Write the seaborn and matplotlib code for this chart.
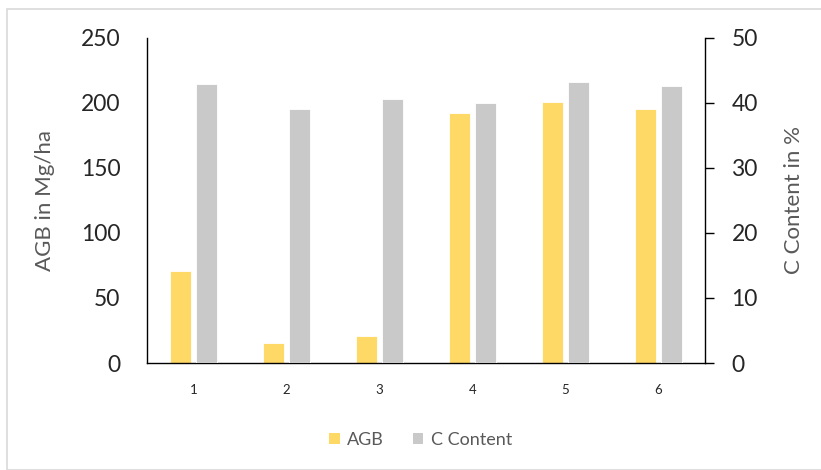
import numpy as np
import pandas as pd
import matplotlib
matplotlib.use("Agg")
import matplotlib.pyplot as plt
from matplotlib.patches import Patch, Rectangle
import seaborn as sns

# values
plots = ["1", "2", "3", "4", "5", "6"]
agb = [70.5, 15.4, 20.7, 192.0, 200.8, 195.4]        # Mg/ha
c_content = [42.9, 39.0, 40.6, 39.9, 43.2, 42.5]     # %
series = ["AGB", "C Content"]
colors = {"AGB": "#FFD966", "C Content": "#C9C9C9"}

sns.set_theme(style="white")
plt.rcParams["font.family"] = ["Lato", "DejaVu Sans"]

df_agb = pd.DataFrame({"plot": plots, "value": agb, "series": "AGB"})
df_c = pd.DataFrame({"plot": plots, "value": c_content, "series": "C Content"})

W, H = 821, 470
fig = plt.figure(figsize=(W / 100, H / 100), dpi=100)
ax = fig.add_axes([147 / W, 1 - 363 / H, 558 / W, 325.5 / H])
ax2 = ax.twinx()

common = dict(x="plot", y="value", hue="series", hue_order=series, palette=colors,
              order=plots, width=0.577, gap=0.217, dodge=True, legend=False,
              saturation=1, edgecolor="white", linewidth=0.6)
sns.barplot(data=df_agb, ax=ax, **common)
sns.barplot(data=df_c, ax=ax2, **common)

ax.set_xlim(-0.5, 5.5)
ax.set_ylim(0, 250)
ax2.set_ylim(0, 50)
ax.set_yticks(np.arange(0, 251, 50))
ax2.set_yticks(np.arange(0, 51, 10))

for a in (ax, ax2):
    a.spines["top"].set_visible(False)
    for s in a.spines.values():
        s.set_color("black")
        s.set_linewidth(1.0)
    a.set_xlabel("")
ax.spines["right"].set_visible(False)
ax2.spines["left"].set_visible(False)
ax2.spines["bottom"].set_visible(False)

ax.tick_params(axis="y", length=0, pad=19, labelsize=16.5, labelcolor="#262626")
ax.tick_params(axis="x", length=0, pad=15, labelsize=9.5, labelcolor="#262626")
ax2.tick_params(axis="y", right=True, direction="out", length=6.5, width=1,
                color="black", pad=12.5, labelsize=16.5, labelcolor="#262626")

ax.set_ylabel("AGB in Mg/ha", fontsize=16, color="#595959")
ax.yaxis.set_label_coords(-0.165, 0.5)
ax2.set_ylabel("C Content in %", fontsize=16, color="#595959")
ax2.yaxis.set_label_coords(1.1416, 0.5)

handles = [Patch(facecolor=colors[s], edgecolor="none", label=s) for s in series]
fig.legend(handles=handles, loc="center", bbox_to_anchor=(0.512, 1 - 440 / H),
           ncol=2, frameon=False, fontsize=13, labelcolor="#595959",
           handlelength=0.6, handleheight=0.6, handletextpad=0.4, columnspacing=1.6)

# light chart-area border
fig.patches.append(Rectangle((7 / W, 0), 1.0, 1 - 9 / H, transform=fig.transFigure,
                             fill=False, edgecolor="#D9D9D9", linewidth=1.2))

fig.savefig("out.png", dpi=100)
